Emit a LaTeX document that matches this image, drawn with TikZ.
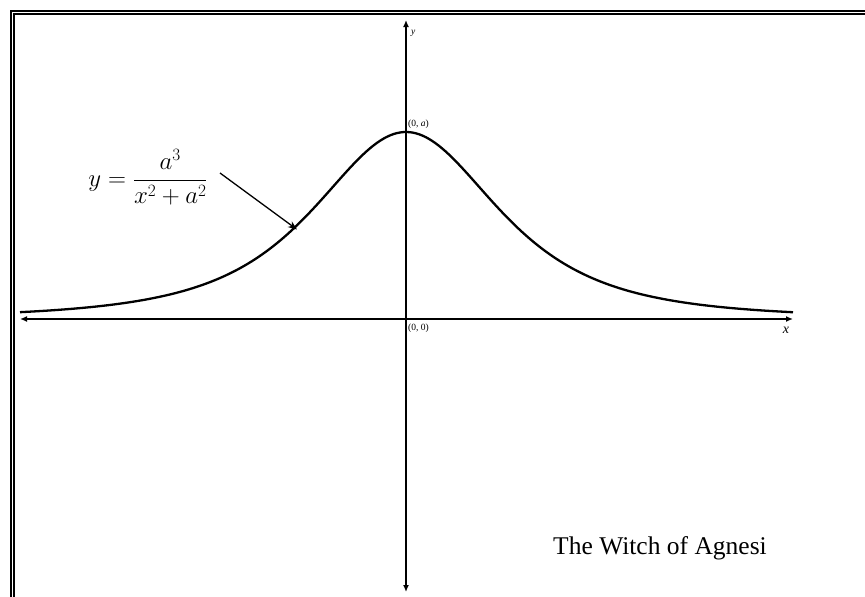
\documentclass[tikz,border=0pt]{standalone}
\usepackage{fontspec}
\setmainfont{Liberation Serif}
\usetikzlibrary{arrows.meta}
\begin{document}
\begin{tikzpicture}[x=1pt,y=-1pt,
  axisline/.style={line width=1.5pt,{Latex[length=7pt,width=6pt]}-{Latex[length=7pt,width=6pt]}},
  pointer/.style={line width=1.3pt,-{Stealth[length=9pt,width=7pt]}},
  smalllab/.style={font=\fontsize{9.5}{11}\selectfont,inner sep=0pt}]
\useasboundingbox (0,0) rectangle (865,597);
\fill[white] (0,0) rectangle (865,597);
% frame
\draw[line width=2.6pt] (10.8,597) -- (10.8,10.8) -- (865,10.8);
\draw[line width=2pt] (14.2,597) -- (14.2,14.2) -- (865,14.2);
% axes
\coordinate (xl) at (20,319);
\coordinate (xr) at (793,319);
\coordinate (yt) at (406,20);
\coordinate (yb) at (406,592);
\draw[axisline] (xl) -- (xr);
\draw[axisline] (yb) -- (yt);
% curve
\draw[line width=2.3pt,line join=round] plot[domain=-386:387,samples=241,smooth] ({406+\x},{319-187/((1+(\x/150)^2)^1.63)});
% labels
\node[smalllab,anchor=west] (ylab) at (411,33) {\itshape y};
\node[smalllab,anchor=west] (top) at (408,124) {(0, \textit{a})};
\node[smalllab,anchor=west] (org) at (408,328) {(0, 0)};
\node[font=\fontsize{14}{16}\selectfont\itshape,inner sep=0pt] (xlab) at (786,330) {x};
% formula
\node[inner sep=0pt] (f) at (148,177) {\fontsize{26.5}{30}\selectfont $y=\displaystyle\frac{a^3}{x^2+a^2}$};
\coordinate (ps) at (220,173);
\coordinate (pe) at (297,229.5);
\draw[pointer] (ps) -- (pe);
% title
\node[inner sep=0pt] (title) at (660,548) {\fontsize{25.5}{30}\selectfont The Witch of Agnesi};
\end{tikzpicture}
\end{document}
